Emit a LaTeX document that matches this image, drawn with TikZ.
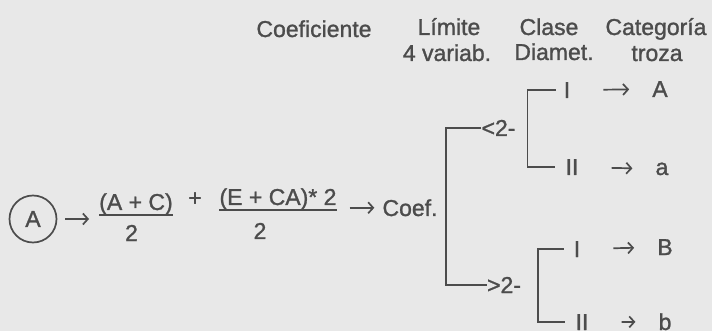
\documentclass[tikz,border=0pt]{standalone}
\usepackage{fontspec}
\setmainfont{Liberation Sans}[FakeBold=1.2]
\usetikzlibrary{arrows.meta}
\definecolor{tinta}{gray}{0.3}
\definecolor{papel}{gray}{0.91}
\tikzset{
  txt/.style={anchor=base, inner sep=0pt, text=tinta},
  linea/.style={draw=tinta, line width=1.7pt},
  flecha/.style={linea, -{Straight Barb[length=5pt,width=11pt]}},
  flechita/.style={flecha, shorten <=33pt, shorten >=23pt},
}
\begin{document}
\begin{tikzpicture}[x=1pt, y=-1pt, font=\fontsize{23}{27}\selectfont]
    \fill[papel] (0,0) rectangle (712,331);
    \useasboundingbox (0,0) rectangle (712,331);

    % cabecera
    \node[txt] (hcoef) at (314,37) {Coeficiente};
    \node[txt] (hlim) at (449,35) {Límite};
    \node[txt] (hvar) at (447,61) {4 variab.};
    \node[txt] (hcla) at (549,35) {Clase};
    \node[txt] (hdia) at (554,60) {Diamet.};
    \node[txt] (hcat) at (656,35) {Categoría};
    \node[txt] (htro) at (657,61) {troza};

    % variable A
    \node[circle, draw=tinta, line width=1.7pt, minimum size=47pt, inner sep=0pt, text=tinta] (cA) at (33,219) {A};

    % primera fraccion
    \node[txt] (num1) at (136,210) {(A + C)};
    \draw[linea] (num1.south west) -- (num1.south east);
    \node[txt] (den1) at (131.5,241) {2};
    \draw[flecha, shorten <=8pt, shorten >=10pt] (cA) -- (cA -| num1.west);

    \node[text=tinta] (mas) at (195,199) {+};

    % segunda fraccion
    \node[txt] (num2) at (278,205) {(E + CA)* 2};
    \draw[linea] (num2.south west) -- (num2.south east);
    \node[txt] (den2) at (260,239) {2};

    % coeficiente
    \node[txt] (coef) at (410,216) {Coef.};
    \draw[flecha, shorten <=13pt, shorten >=8pt] (num2.east |- coef) -- (coef);

    % limite
    \node[txt] (menor) at (498.5,136) {<2-};
    \node[txt] (mayor) at (504,293) {>2-};
    \draw[linea] (menor.west) -| ([xshift=8pt]coef.east) |- (mayor.west);

    % clase diametrica
    \node[txt] (I1) at (567,98) {I};
    \node[txt] (II1) at (572,175) {II};
    \node[txt] (I2) at (577,257) {I};
    \node[txt] (II2) at (582,330) {II};
    \draw[linea, shorten <=8pt, shorten >=10pt] (I1.west) -| ([xshift=12pt]menor.east) |- (II1.west);
    \draw[linea, shorten <=10pt, shorten >=10pt] (I2.west) -| ([xshift=17pt]mayor.east) |- (II2.west);

    % categoria de troza
    \node[txt] (A1) at (660,97) {A};
    \node[txt] (a1) at (662,175) {a};
    \node[txt] (B2) at (665,255) {B};
    \node[txt] (b2) at (665,330) {b};
    \draw[flechita] (I1) -- (A1);
    \draw[flechita] (II1) -- (a1);
    \draw[flechita] (I2) -- (B2);
    \draw[flechita] (II2) -- (b2);
\end{tikzpicture}
\end{document}
